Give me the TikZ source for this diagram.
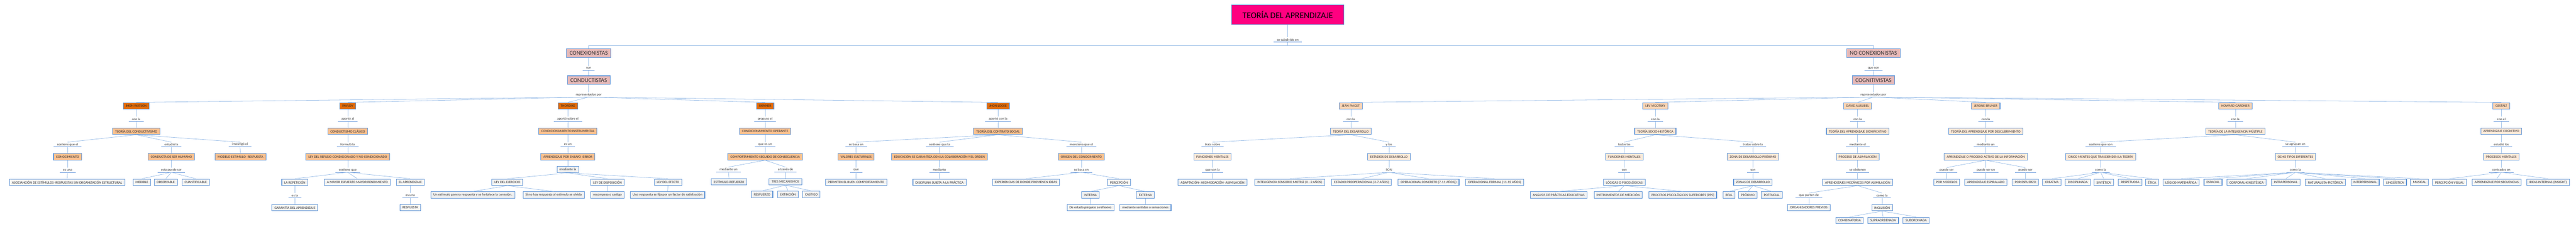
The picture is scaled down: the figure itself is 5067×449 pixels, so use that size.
\documentclass[tikz,border=0pt]{standalone}
\usepackage{fontspec}
\setmainfont{Carlito}
\begin{document}
\begin{tikzpicture}[x=1pt,y=-1pt,
  every node/.style={font=\fontsize{6.8}{8}\selectfont, text=black!80},
  box/.style={draw=bd, line width=1.1pt, inner xsep=5pt, inner ysep=0pt, minimum height=12.5pt},
  dk/.style={box, fill=dko, text=black!85},
  pc/.style={box, fill=pch},
  lp/.style={box, fill=lpch},
  lpp/.style={box, fill=llp},
  lf/.style={box, fill=gry},
  grp/.style={box, fill=pnk, font=\fontsize{11.5}{13}\selectfont, minimum height=17pt, inner xsep=6pt},
  lk/.style={inner xsep=6.5pt, inner ysep=1pt, minimum height=9pt,
     append after command={(\tikzlastnode.south west) edge[draw=ul, line width=0.9pt] (\tikzlastnode.south east)}},
  conn/.style={draw=cn, line width=0.8pt}]
\definecolor{bd}{HTML}{5F94D6}
\definecolor{dko}{HTML}{E36C0A}
\definecolor{pch}{HTML}{FAC090}
\definecolor{lpch}{HTML}{FBD5B5}
\definecolor{llp}{HTML}{FDE9D9}
\definecolor{gry}{HTML}{F2F2F2}
\definecolor{pnk}{HTML}{E6B9B8}
\definecolor{ul}{HTML}{5B8FD8}
\definecolor{cn}{HTML}{9CBFE8}
\definecolor{ttlc}{HTML}{FF0080}
\useasboundingbox (0,0) rectangle (5067,449);
\def\P{208}\def\La{234}\def\Rb{258}\def\Lb{284}\def\Rc{308}\def\Lc{334}\def\Rd{358}\def\Ld{384}\def\Re{408}\def\Rf{433}
% top
\node[box, fill=ttlc, minimum width=221pt, minimum height=38pt, font=\fontsize{17}{19}\selectfont, text=black] (ttl) at (2533,29) {TEORÍA DEL APRENDIZAJE};
\node[lk] (sub) at (2533,78) {se subdivide en};
\node[grp] (cx) at (1158,104.5) {CONEXIONISTAS};
\node[lk] (cxl) at (1158,134) {son};
\node[grp] (cd) at (1158,157.5) {CONDUCTISTAS};
\node[lk] (cdl) at (1158,186) {representados por};
\node[grp] (ncx) at (3685,104.5) {NO CONEXIONISTAS};
\node[lk] (ncxl) at (3685,134) {que son};
\node[grp] (cg) at (3685,157.5) {COGNITIVISTAS};
\node[lk] (cgl) at (3685,186) {representados por};
% Watson
\node[dk] (w) at (268,\P) {JHON WATSON};
\node[lk] (wl) at (268,\La) {con la};
\node[pc] (w2) at (268,\Rb) {TEORÍA DEL CONDUCTIVISMO};
\node[lk] (wa) at (133,\Lb) {sostiene que el};
\node[pc] (wa1) at (133,\Rc) {CONOCIMIENTO};
\node[lk] (wa2) at (133,\Lc) {es una};
\node[lf] (wa3) at (132,\Rd) {ASOCIANCIÓN DE ESTÍMULOS -RESPUESTAS SIN ORGANIZACIÓN ESTRUCTURAL};
\node[lk] (wb) at (337,\Lb) {estudió la};
\node[pc] (wb1) at (337,\Rc) {CONDUCTA DE SER HUMANO};
\node[lk] (wb2) at (337,\Lc) {esta puede ser};
\node[lf] (wb3) at (279,\Rd) {MEDIBLE};
\node[lf] (wb4) at (326,\Rd) {OBSERVABLE};
\node[lf] (wb5) at (385,\Rd) {CUANTIFICABLE};
\node[lk] (wc) at (472,\Lb) {investigó el};
\node[pc] (wc1) at (473,\Rc) {MODELO ESTIMULO -RESPUESTA};
% Pavlov
\node[dk] (p) at (684,\P) {PAVLOV};
\node[lk] (pl) at (684,\La) {aportó al};
\node[pc] (p2) at (684,\Rb) {CONDUCTISMO CLÁSICO};
\node[lk] (pl2) at (684,\Lb) {formuló la};
\node[pc] (p3) at (684,\Rc) {LEY DEL REFLEJO CONDICIONADO Y NO CONDICIONADO};
\node[lk] (pl3) at (684,\Lc) {sostiene que};
\node[lf] (pa) at (580,\Rd) {LA REPETICIÓN};
\node[lf] (pb) at (703,\Rd) {A MAYOR ESFUERZO MAYOR RENDIMIENTO};
\node[lf] (pcc) at (807,\Rd) {EL APRENDIZAJE};
\node[lk] (pal) at (580,\Ld) {es la};
\node[lf] (pa1) at (580,\Re) {GARANTÍA DEL APRENDIZAJE};
\node[lk] (pcl) at (807,\Ld) {es una};
\node[lf] (pc1) at (807,\Re) {RESPUESTA};
% Thorndike
\node[dk] (t) at (1117,\P) {THORDIKE};
\node[lk] (tl) at (1117,\La) {aportó sobre el};
\node[pc] (t2) at (1117,\Rb) {CONDICIONAMIENTO INSTRUMENTAL};
\node[lk] (tl2) at (1117,\Lb) {es un};
\node[pc] (t3) at (1117,\Rc) {APRENDIZAJE POR ENSAYO -ERROR};
\node[lf] (tm) at (1117,333) {mediante la};
\node[lf] (ta) at (998,\Rd) {LEY DEL EJERCICIO};
\node[lf] (tb) at (1195,\Rd) {LEY DE DISPOSICIÓN};
\node[lf] (tc) at (1314,\Rd) {LEY DEL EFECTO};
\node[lf] (ta1) at (930,383) {Un estimulo genera respuesta y se fortalece la conexión.};
\node[lf] (ta2) at (1089,383) {Si no hay respuesta al estimulo se olvida};
\node[lf] (tb1) at (1195,383) {recompesa o castigo};
\node[lf] (tc1) at (1313,383) {Una respuesta se fija por un factor de satisfacción};
% Skinner
\node[dk] (s) at (1505,\P) {SKINNER};
\node[lk] (sl) at (1505,\La) {propuso el};
\node[pc] (s2) at (1505,\Rb) {CONDICIONAMIENTO OPERANTE};
\node[lk] (sl2) at (1505,\Lb) {que es un};
\node[pc] (s3) at (1505,\Rc) {COMPORTAMIENTO SEGUIDO DE CONSECUENCIA};
\node[lk] (sa) at (1433,333) {mediante un};
\node[lf] (sa1) at (1434,357) {ESTÍMULO-REFUERZO};
\node[lk] (sb) at (1545,333) {a través de};
\node[lf] (sb1) at (1545,357) {TRES MECANISMOS};
\node[lf] (sb2) at (1499,382) {RESFUERZO};
\node[lf] (sb3) at (1550,382) {EXTINCIÓN};
\node[lf] (sb4) at (1596,382) {CASTIGO};
% Locke
\node[dk] (l) at (1963,\P) {JHON LOCKE};
\node[lk] (ll) at (1963,\La) {aportó con la};
\node[pc] (l2) at (1963,\Rb) {TEORÍA DEL CONTRATO SOCIAL};
\node[lk] (la) at (1684,\Lb) {se basa en};
\node[pc] (la1) at (1684,\Rc) {VALORES CULTURALES};
\node[lk] (la2) at (1684,\Lc) {que};
\node[lf] (la3) at (1684,\Rd) {PERMITEN EL BUEN COMPORTAMIENTO};
\node[lk] (lb) at (1848,\Lb) {sostiene que la};
\node[pc] (lb1) at (1848,\Rc) {EDUCACIÓN SE GARANTIZA CON LA COLABORACIÓN Y EL ORDEN};
\node[lk] (lb2) at (1848,\Lc) {mediante};
\node[lf] (lb3) at (1848,\Rd) {DISCIPLINA SUJETA A LA PRÁCTICA};
\node[lk] (lc) at (2127,\Lb) {menciona que el};
\node[pc] (lc1) at (2127,\Rc) {ORIGEN DEL CONOCIMIENTO};
\node[lk] (lc2) at (2127,\Lc) {se basa en};
\node[lf] (lc3) at (2018,\Rd) {EXPERIENCIAS DE DONDE PROVIENEN IDEAS};
\node[lf] (lc4) at (2201,\Rd) {PERCEPCIÓN};
\node[lf] (lc5) at (2145,383) {INTERNA};
\node[lf] (lc6) at (2253,383) {EXTERNA};
\node[lf] (lc7) at (2145,\Re) {De estado psíquico o reflexivo};
\node[lf] (lc8) at (2253,\Re) {mediante sentidos o sensaciones};
% Piaget
\node[lp] (pg) at (2657,\P) {JEAN PIAGET};
\node[lk] (pgl) at (2657,\La) {con la};
\node[lpp] (pg2) at (2657,\Rb) {TEORÍA DEL DESARROLLO};
\node[lk] (pga) at (2385,\Lb) {trata sobre};
\node[lpp] (pga1) at (2385,\Rc) {FUNCIONES MENTALES};
\node[lk] (pga2) at (2385,\Lc) {que son la};
\node[lf] (pga3) at (2385,\Rd) {ADAPTACIÓN- ACOMODACIÓN- ASIMILACIÓN};
\node[lk] (pgb) at (2732,\Lb) {y los};
\node[lpp] (pgb1) at (2732,\Rc) {ESTADIOS DE DESARROLLO};
\node[lk] (pgb2) at (2732,\Lc) {SON};
\node[lf] (pgb3) at (2537,\Rd) {INTELIGENCIA SENSORIO MOTRIZ (0 - 2 AÑOS)};
\node[lf] (pgb4) at (2678,\Rd) {ESTADIO PREOPERACIONAL (2-7 AÑOS)};
\node[lf] (pgb5) at (2810,\Rd) {OPERACIONAL CONCRETO (7-11 AÑOS))};
\node[lf] (pgb6) at (2940,\Rd) {OPERACIONAL FORMAL (11-15 AÑOS)};
% Vigotsky
\node[lp] (v) at (3256,\P) {LEV VIGOTSKY};
\node[lk] (vl) at (3256,\La) {con la};
\node[lpp] (v2) at (3256,\Rb) {TEORÍA SOCIO-HISTÓRICA};
\node[lk] (va) at (3195,\Lb) {todas las};
\node[lpp] (va1) at (3195,\Rc) {FUNCIONES MENTALES};
\node[lk] (va2) at (3195,\Lc) {son};
\node[lf] (va3) at (3195,\Rd) {LÓGICAS O PSICOLÓGICAS};
\node[lf] (va4) at (3066,383) {ANÁLISIS DE PRÁCTICAS EDUCATIVAS};
\node[lf] (va5) at (3183,383) {INSTRUMENTOS DE MEDICIÓN};
\node[lf] (va6) at (3310,383) {PROCESOS PSICOLÓGICOS SUPERIORES (PPS)};
\node[lk] (vb) at (3448,\Lb) {tratas sobre la};
\node[lpp] (vb1) at (3448,\Rc) {ZONA DE DESARROLLO PRÓXIMO};
\node[lk] (vb2) at (3448,\Lc) {son};
\node[lf] (vb3) at (3448,\Rd) {ZONAS DE DESARROLLO};
\node[lf] (vb4) at (3401,383) {REAL};
\node[lf] (vb5) at (3438,383) {PRÓXIMO};
\node[lf] (vb6) at (3485,383) {POTENCIAL};
% Ausubel
\node[lp] (a) at (3654,\P) {DAVID AUSUBEL};
\node[lk] (al) at (3654,\La) {con la};
\node[lpp] (a2) at (3654,\Rb) {TEORÍA DEL APRENDIZAJE SIGNIFICATIVO};
\node[lk] (al2) at (3654,\Lb) {mediante el};
\node[lpp] (a3) at (3654,\Rc) {PROCESO DE ASIMILACIÓN};
\node[lk] (al3) at (3654,\Lc) {se obtienen};
\node[lf] (a4) at (3654,\Rd) {APRENDIZAJES MECÁNICOS POR ASIMILACIÓN};
\node[lk] (aa) at (3558,\Ld) {que parten de};
\node[lf] (aa1) at (3558,\Re) {ORGANIZADORES PREVIOS};
\node[lk] (ab) at (3702,\Ld) {como la};
\node[lf] (ab1) at (3702,\Re) {INCLUSIÓN};
\node[lf] (ab2) at (3638,\Rf) {COMBINATORIA};
\node[lf] (ab3) at (3704,\Rf) {SUPRAORDENADA};
\node[lf] (ab4) at (3769,\Rf) {SUBORDINADA};
% Bruner
\node[lp] (b) at (3906,\P) {JERONE BRUNER};
\node[lk] (bl) at (3906,\La) {con la};
\node[lpp] (b2) at (3906,\Rb) {TEORÍA DEL APRENDIZAJE POR DESCUBRIMIENTO};
\node[lk] (bl2) at (3906,\Lb) {mediante un};
\node[lpp] (b3) at (3906,\Rc) {APRENDIZAJE O PROCESO ACTIVO DE LA INFORMACIÓN};
\node[lk] (ba) at (3829,\Lc) {puede ser};
\node[lf] (ba1) at (3829,\Rd) {POR MODELOS};
\node[lk] (bb) at (3906,\Lc) {puede ser un};
\node[lf] (bb1) at (3906,\Rd) {APRENDIZAJE ESPIRALADO};
\node[lk] (bc) at (3984,\Lc) {puede ser};
\node[lf] (bc1) at (3984,\Rd) {POR ESFUERZO};
% Gardner
\node[lp] (g) at (4397,\P) {HOWARD GARDNER};
\node[lk] (gl) at (4397,\La) {con la};
\node[lpp] (g2) at (4397,\Rb) {TEORÍA DE LA INTELIGENCIA MÚLTIPLE};
\node[lk] (ga) at (4132,\Lb) {sostiene que son};
\node[lpp] (ga1) at (4132,\Rc) {CINCO MENTES QUE TRASCIENDEN LA TEORÍA};
\node[lk] (ga2) at (4132,\Lc) {como la};
\node[lf] (ga3) at (4036,\Rd) {CREATIVA};
\node[lf] (ga4) at (4087,\Rd) {DISCIPLINADA};
\node[lf] (ga5) at (4138,\Rd) {SINTÉTICA};
\node[lf] (ga6) at (4190,\Rd) {RESPETUOSA};
\node[lf] (ga7) at (4233,\Rd) {ÉTICA};
\node[lk] (gb) at (4515,\Lb) {se agrupan en};
\node[lpp] (gb1) at (4515,\Rc) {OCHO TIPOS DIFERENTES};
\node[lk] (gb2) at (4515,\Lc) {como la};
\node[lf] (gb3) at (4290,\Rd) {LÓGICO-MATEMÁTICA};
\node[lf] (gb4) at (4353,\Rd) {ESPACIAL};
\node[lf] (gb5) at (4419,\Rd) {CORPORAL-KINESTÉSICA};
\node[lf] (gb6) at (4496,\Rd) {INTRAPERSONAL};
\node[lf] (gb7) at (4574,\Rd) {NATURALISTA-PICTÓRICA};
\node[lf] (gb8) at (4652,\Rd) {INTERPERSONAL};
\node[lf] (gb9) at (4711,\Rd) {LINGÜÍSTICA};
\node[lf] (gb10) at (4759,\Rd) {MUSICAL};
% Gestalt
\node[lp] (ge) at (4920,\P) {GESTALT};
\node[lk] (gel) at (4920,\La) {con el};
\node[lpp] (ge2) at (4920,\Rb) {APRENDIZAJE COGNITIVO};
\node[lk] (gel2) at (4920,\Lb) {estudió los};
\node[lpp] (ge3) at (4920,\Rc) {PROCESOS MENTALES};
\node[lk] (gel3) at (4920,\Lc) {centrados en};
\node[lf] (ge4) at (4818,\Rd) {PERCEPCIÓN VISUAL};
\node[lf] (ge5) at (4911,\Rd) {APRENDIZAJE POR SECUENCIAS};
\node[lf] (ge6) at (5012,\Rd) {IDEAS INTERNAS (INSIGHT)};
% connectors
\coordinate (hl) at (2533,90);
\draw[conn] (ttl.south) -- (sub.north);
\draw[conn] (sub.south) -- (hl);
\draw[conn] (cx.north) -- (cx.north |- hl) -- (ncx.north |- hl) -- (ncx.north);
\foreach \a/\b in {cx/cxl,cxl/cd,cd/cdl,ncx/ncxl,ncxl/cg,cg/cgl,
 cdl/w,cdl/p,cdl/t,cdl/s,cdl/l,cgl/pg,cgl/v,cgl/a,cgl/b,cgl/g,cgl/ge,
 w/wl,wl/w2,w2/wa,wa/wa1,wa1/wa2,wa2/wa3,w2/wb,wb/wb1,wb1/wb2,wb2/wb3,wb2/wb4,wb2/wb5,w2/wc,wc/wc1,
 p/pl,pl/p2,p2/pl2,pl2/p3,p3/pl3,pl3/pa,pl3/pb,pl3/pcc,pa/pal,pal/pa1,pcc/pcl,pcl/pc1,
 t/tl,tl/t2,t2/tl2,tl2/t3,t3/tm,tm/ta,tm/tb,tm/tc,ta/ta1,ta/ta2,tb/tb1,tc/tc1,
 s/sl,sl/s2,s2/sl2,sl2/s3,s3/sa,s3/sb,sa/sa1,sb/sb1,sb1/sb2,sb1/sb3,sb1/sb4,
 l/ll,ll/l2,l2/la,l2/lb,l2/lc,la/la1,la1/la2,la2/la3,lb/lb1,lb1/lb2,lb2/lb3,lc/lc1,lc1/lc2,lc2/lc3,lc2/lc4,lc4/lc5,lc4/lc6,lc5/lc7,lc6/lc8,
 pg/pgl,pgl/pg2,pg2/pga,pg2/pgb,pga/pga1,pga1/pga2,pga2/pga3,pgb/pgb1,pgb1/pgb2,pgb2/pgb3,pgb2/pgb4,pgb2/pgb5,pgb2/pgb6,
 v/vl,vl/v2,v2/va,v2/vb,va/va1,va1/va2,va2/va3,va3/va4,va3/va5,va3/va6,vb/vb1,vb1/vb2,vb2/vb3,vb3/vb4,vb3/vb5,vb3/vb6,
 a/al,al/a2,a2/al2,al2/a3,a3/al3,al3/a4,a4/aa,a4/ab,aa/aa1,ab/ab1,ab1/ab2,ab1/ab3,ab1/ab4,
 b/bl,bl/b2,b2/bl2,bl2/b3,b3/ba,b3/bb,b3/bc,ba/ba1,bb/bb1,bc/bc1,
 g/gl,gl/g2,g2/ga,g2/gb,ga/ga1,ga1/ga2,ga2/ga3,ga2/ga4,ga2/ga5,ga2/ga6,ga2/ga7,gb/gb1,gb1/gb2,
 gb2/gb3,gb2/gb4,gb2/gb5,gb2/gb6,gb2/gb7,gb2/gb8,gb2/gb9,gb2/gb10,
 ge/gel,gel/ge2,ge2/gel2,gel2/ge3,ge3/gel3,gel3/ge4,gel3/ge5,gel3/ge6}
 \draw[conn] (\a.south) -- (\b.north);
\end{tikzpicture}
\end{document}
